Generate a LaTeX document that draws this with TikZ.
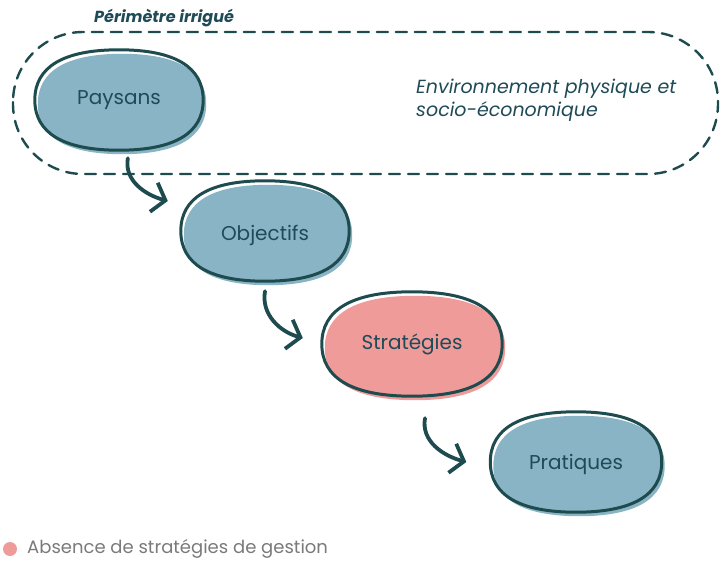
\documentclass[tikz,border=0pt]{standalone}
\usepackage{fontspec}
\setmainfont{Poppins}
\usetikzlibrary{arrows.meta,calc}
\definecolor{edge}{HTML}{1E4B4E}
\definecolor{bluefill}{HTML}{88B4C5}
\definecolor{pinkfill}{HTML}{EF9B9A}
\definecolor{ink}{HTML}{1F4A57}
\definecolor{legendgray}{HTML}{7A7A7A}
% rounded blob round a node
\newcommand{\blobshape}[1]{(#1.west) .. controls ($(#1.west)!0.66!(#1.north west)$) and ($(#1.north)!0.66!(#1.north west)$) .. (#1.north)
	.. controls ($(#1.north)!0.66!(#1.north east)$) and ($(#1.east)!0.66!(#1.north east)$) .. (#1.east)
	.. controls ($(#1.east)!0.66!(#1.south east)$) and ($(#1.south)!0.66!(#1.south east)$) .. (#1.south)
	.. controls ($(#1.south)!0.66!(#1.south west)$) and ($(#1.west)!0.66!(#1.south west)$) .. (#1.west) -- cycle}
\newcommand{\blob}[2]{%
	\fill[#2,transform canvas={xshift=3pt,yshift=-4pt}] \blobshape{#1};
	\draw[blobline] \blobshape{#1};}
\begin{document}
\begin{tikzpicture}[x=1pt,y=-1pt,line join=round,line cap=round,>={Straight Barb[length=12pt,width=30pt]}]
	\tikzset{blob/.style={inner sep=0,minimum width=168pt,minimum height=100pt,text=ink,font=\fontsize{20}{24}\selectfont},
		blobline/.style={draw=edge,line width=3pt},
		link/.style={->,draw=edge,line width=3.8pt}}
	\useasboundingbox (0,0) rectangle (721,562);
	% perimetre irrigue
	\draw[edge,line width=2.4pt,dash pattern=on 11pt off 8pt,rounded corners=70pt] (13,32) rectangle (718,174);
	\node[font=\bfseries\itshape\fontsize{16}{18}\selectfont,text=ink,anchor=west,inner sep=0] (perim) at (94,18) {Périmètre irrigué};
	\node[font=\itshape\fontsize{19}{23}\selectfont,text=ink,anchor=west,align=left,inner sep=0] (env) at (416,100) {Environnement physique et\\socio-économique};
	% blobs
	\node[blob] (pay) at (119,100) {};
	\node[blob] (obj) at (265,231) {};
	\node[blob,minimum width=180pt,minimum height=104pt] (str) at (412,344) {};
	\node[blob,minimum width=171pt] (pra) at (576,462) {};
	\blob{pay}{bluefill}
	\blob{obj}{bluefill}
	\blob{str}{pinkfill}
	\blob{pra}{bluefill}
	\node[blob,minimum width=0,minimum height=0] (payt) at (pay) {Paysans};
	\node[blob,minimum width=0,minimum height=0] (objt) at ([yshift=-4pt]obj.center) {Objectifs};
	\node[blob,minimum width=0,minimum height=0] (strt) at (str) {Stratégies};
	\node[blob,minimum width=0,minimum height=0] (prat) at ([yshift=-2pt]pra.center) {Pratiques};
	% arrows
	\draw[link] ([yshift=-8pt]pay.-80) to[out=-100,in=165] ([xshift=-13pt,yshift=30pt]obj.west);
	\draw[link] ([yshift=-10pt]obj.south) to[out=-100,in=165] ([xshift=-19pt,yshift=6pt]str.west);
	\draw[link] ([xshift=13pt,yshift=-22pt]str.south) to[out=-100,in=165] ([xshift=-24pt]pra.west);
	% legend
	\node[circle,fill=pinkfill,inner sep=0,minimum size=14pt] (dot) at (10,549) {};
	\node[anchor=west,text=legendgray,font=\fontsize{18}{21}\selectfont,inner sep=0] (legend) at (27,549) {Absence de stratégies de gestion};
\end{tikzpicture}
\end{document}
